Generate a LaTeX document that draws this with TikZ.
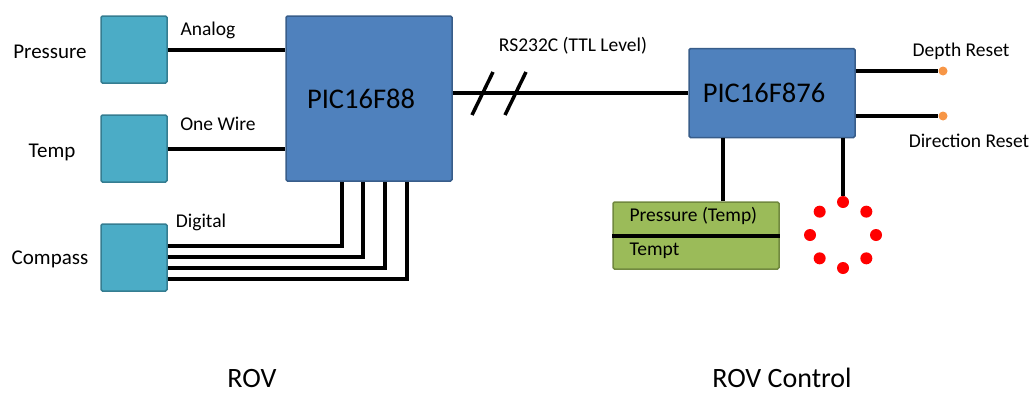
\documentclass[tikz,border=0pt]{standalone}
\usepackage{fontspec}
\setmainfont{Carlito}
\usepackage{tikz}
\usetikzlibrary{calc}
\definecolor{sensorteal}{RGB}{75,172,198}
\definecolor{sensorline}{RGB}{53,125,145}
\definecolor{picblue}{RGB}{79,129,189}
\definecolor{picline}{RGB}{56,93,138}
\definecolor{lcdgreen}{RGB}{155,187,89}
\definecolor{lcdline}{RGB}{113,137,63}
\definecolor{ledred}{RGB}{255,0,0}
\definecolor{resetorange}{RGB}{247,150,70}

\begin{document}
\begin{tikzpicture}[
    x=1pt, y=-1pt,
    box/.style={draw, line width=1.5pt, rounded corners=1.5pt, inner sep=0pt},
    sensor/.style={box, fill=sensorteal, draw=sensorline, minimum width=66pt, minimum height=67pt},
    mcu/.style={box, fill=picblue, draw=picline, label={[font=\fontsize{28.5}{30}\selectfont, xshift=-8pt]center:#1}},
    lcd/.style={box, fill=lcdgreen, draw=lcdline, minimum width=166pt, minimum height=67pt},
    wire/.style={line width=4pt},
    lbl/.style={font=\fontsize{21}{24}\selectfont},
    sig/.style={font=\fontsize{19.5}{22}\selectfont},
    big/.style={font=\fontsize{28}{30}\selectfont, inner sep=0pt},
    led/.style={circle, fill=ledred, minimum size=12pt, inner sep=0pt},
    tip/.style={circle, fill=resetorange, minimum size=9pt, inner sep=0pt}
]
\useasboundingbox (0,0) rectangle (1033,394);

% --- ROV ---
\node[sensor] (press) at (134,49.5) {};
\node[sensor] (temp) at (134,148.5) {};
\node[sensor] (comp) at (134,257.5) {};
\node[lbl] (lpress) at (50,52) {Pressure};
\node[lbl] (ltemp) at (52,152) {Temp};
\node[lbl] (lcomp) at (50,259) {Compass};

\node[mcu=PIC16F88, minimum width=166pt, minimum height=165pt] (pic88) at (369,98.5) {};

\draw[wire] (press.east) -- (press.east -| pic88.west);
\draw[wire] (temp.east) -- (temp.east -| pic88.west);
\node[sig] (analog) at (208,30) {Analog};
\node[sig] (onewire) at (218,124) {One Wire};
\node[sig] (digital) at (201,222) {Digital};

\foreach \dy/\dx in {11.5/-27, 0.5/-6, -10.5/16, -21.5/38}
    \draw[wire] ([yshift=\dy pt]comp.east) -| ([xshift=\dx pt]pic88.south);

\node[big] (rov) at (252,379) {ROV};

% --- ROV Control ---
\node[mcu=PIC16F876, minimum width=166pt, minimum height=89pt] (pic876) at (772,93) {};

\draw[wire] (pic88.east |- pic876.west) -- (pic876.west);
\foreach \x in {482,515}
    \draw[wire, line width=3.5pt] (\x-10,115) -- (\x+11,72);
\node[sig] (rs232) at (573,46) {RS232C (TTL Level)};

\node[tip] (dreset) at (943,71) {};
\node[tip] (creset) at (943,116) {};
\draw[wire] (dreset.center -| pic876.east) -- (dreset.west);
\draw[wire] (creset.center -| pic876.east) -- (creset.west);
\node[sig] (ldreset) at (961,51) {Depth Reset};
\node[sig] (lcreset) at (969,141) {Direction Reset};

\node[lcd] (disp) at (696,235.5) {};
\draw[wire] (disp.west) -- (disp.east);
\node[sig, anchor=west] (ltop) at (626,216) {Pressure (Temp)};
\node[sig, anchor=west] (lbot) at (626,251) {Tempt};
\draw[wire] ([xshift=27pt]disp.north) -- ([xshift=27pt]disp.north |- pic876.south);

% LED ring (y axis points down, so -90 is the top)
\coordinate (ring) at (843,235);
\foreach \a [count=\k] in {-90,-45,0,45,90,135,180,225}
    \node[led] (led\k) at ($(ring)+(\a:33)$) {};
\draw[wire] (led1.north |- pic876.south) -- (led1.north);

\node[big] (rovc) at (782,378) {ROV Control};
\end{tikzpicture}
\end{document}
